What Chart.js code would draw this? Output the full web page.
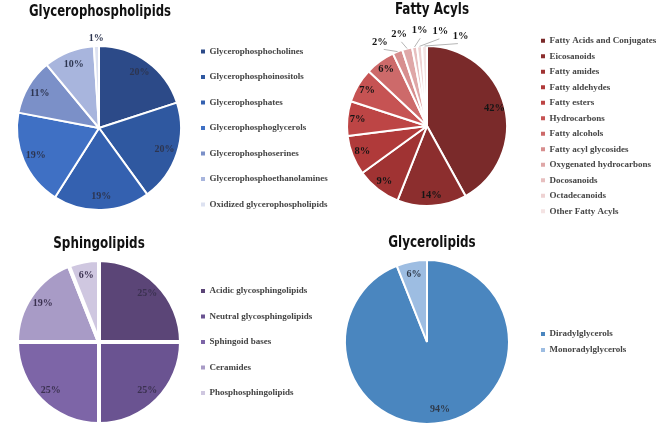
<!DOCTYPE html>
<html><head><meta charset="utf-8">
<script src="https://cdn.jsdelivr.net/npm/chart.js@4.4.1/dist/chart.umd.min.js"></script>
<style>
html,body{margin:0;padding:0;background:#fff;}
body{width:666px;height:436px;position:relative;overflow:hidden;}
canvas{position:absolute;}
</style></head><body>
<canvas id="gp"></canvas>
<canvas id="fa"></canvas>
<canvas id="sp"></canvas>
<canvas id="gl"></canvas>
<script>
// ---------- data ----------
const gpTitle = 'Glycerophospholipids';
const gpCategories = ['Glycerophosphocholines','Glycerophosphoinositols','Glycerophosphates','Glycerophosphoglycerols','Glycerophosphoserines','Glycerophosphoethanolamines','Oxidized glycerophospholipids'];
const gpValues = [20, 20, 19, 19, 11, 10, 1];

const faTitle = 'Fatty Acyls';
const faCategories = ['Fatty Acids and Conjugates','Eicosanoids','Fatty amides','Fatty aldehydes','Fatty esters','Hydrocarbons','Fatty alcohols','Fatty acyl glycosides','Oxygenated hydrocarbons','Docosanoids','Octadecanoids','Other Fatty Acyls'];
const faValues = [42, 14, 9, 8, 7, 7, 6, 2, 2, 1, 1, 1];

const spTitle = 'Sphingolipids';
const spCategories = ['Acidic glycosphingolipids','Neutral glycosphingolipids','Sphingoid bases','Ceramides','Phosphosphingolipids'];
const spValues = [25, 25, 25, 19, 6];

const glTitle = 'Glycerolipids';
const glCategories = ['Diradylglycerols','Monoradylglycerols'];
const glValues = [94, 6];

// ---------- styles ----------
const gpColors = ['#2c4a88','#2f58a0','#3461b0','#3f70c4','#7b90c8','#a8b5dd','#dde2f1'];
const faColors = ['#7a2a2a','#8c2e2e','#a03333','#b03a3a','#bd4545','#c65353','#cd6a6a','#d78e8e','#dfa7a7','#e7bfbf','#eed2d2','#f4e3e3'];
const spColors = ['#5b4577','#6a5391','#7d65a7','#a89bc6','#cfc7e0'];
const glColors = ['#4a86bf','#9dbde2'];

const TITLE_FONT = "'Liberation Sans Narrow','DejaVu Sans Condensed','Liberation Sans',Arial,sans-serif";
const SERIF = "'Liberation Serif','DejaVu Serif',serif";
const TITLE_SQUEEZE = 0.83;

const sliceLabels = {
  id: 'sliceLabels',
  afterDatasetsDraw(chart, args, o) {
    const ctx = chart.ctx;
    const meta = chart.getDatasetMeta(0);
    const vals = chart.data.datasets[0].data;
    ctx.save();
    ctx.font = 'bold ' + o.size + 'px ' + SERIF;
    ctx.fillStyle = o.color;
    ctx.textAlign = 'center';
    ctx.textBaseline = 'middle';
    const small = [];
    meta.data.forEach((arc, i) => {
      const p = arc.getProps(['x','y','startAngle','endAngle','outerRadius'], true);
      const mid = (p.startAngle + p.endAngle) / 2;
      if (vals[i] <= o.outsideMax) { small.push({v: vals[i], mid, x: p.x, y: p.y, r: p.outerRadius}); return; }
      const R = p.outerRadius * o.inside;
      ctx.fillText(vals[i] + '%', p.x + Math.cos(mid) * R, p.y + Math.sin(mid) * R);
    });
    const n = small.length;
    if (n) {
      const d2r = Math.PI / 180;
      const mean = small.reduce((s, a) => s + a.mid, 0) / n + (o.shift || 0) * d2r;
      small.forEach((s, k) => {
        const ang = n > 1 ? mean + (k - (n - 1) / 2) * o.sep * d2r : s.mid;
        if (o.leader) {
          ctx.strokeStyle = o.leaderColor;
          ctx.lineWidth = 1;
          ctx.beginPath();
          ctx.moveTo(s.x + Math.cos(s.mid) * s.r, s.y + Math.sin(s.mid) * s.r);
          ctx.lineTo(s.x + Math.cos(ang) * s.r * o.leaderEnd, s.y + Math.sin(ang) * s.r * o.leaderEnd);
          ctx.stroke();
        }
        const R = s.r * o.outside;
        ctx.fillText(s.v + '%', s.x + Math.cos(ang) * R, s.y + Math.sin(ang) * R);
      });
    }
    ctx.restore();
  }
};

const baseGen = Chart.overrides.pie.plugins.legend.labels.generateLabels;
const measureCtx = document.createElement('canvas').getContext('2d');

function makePie(s) {
  const cv = document.getElementById(s.id);
  const ts = 16, tlh = ts * 1.2, fs = 9, bw = 4;
  const pad = s.spacing - fs;
  const legendFont = 'bold ' + fs + 'px ' + SERIF;
  measureCtx.font = legendFont;
  const maxText = Math.max(...s.labels.map(t => measureCtx.measureText(t).width));
  const legendW = pad + bw + fs / 2 + maxText + 10;
  const areaRight = s.legendX - pad - s.L;
  const areaLeft = 2 * (s.cx - s.L) - areaRight;
  const W = Math.ceil(areaRight + legendW + 3);
  const padRight = W - areaRight - legendW;
  const tt = s.titleY - s.T - tlh / 2;
  const top = 2 * (s.cy - s.T) - s.H;
  const tb = top - tt - tlh;
  cv.width = W; cv.height = s.H;
  cv.style.left = s.L + 'px'; cv.style.top = s.T + 'px';
  cv.style.width = W + 'px'; cv.style.height = s.H + 'px';
  const chart = new Chart(cv, {
    type: 'pie',
    data: {
      labels: s.labels,
      datasets: [{
        data: s.values,
        backgroundColor: s.colors,
        borderColor: '#ffffff',
        borderWidth: s.border,
        radius: s.r
      }]
    },
    options: {
      responsive: false,
      animation: false,
      events: [],
      layout: { padding: { left: areaLeft, right: padRight, top: 0, bottom: 0 } },
      plugins: {
        tooltip: { enabled: false },
        title: {
          display: true, text: s.title, fullSize: false, color: '#111111',
          font: { family: TITLE_FONT, size: ts, weight: 'bold' },
          padding: { top: tt, bottom: tb }
        },
        legend: {
          position: 'right', fullSize: false, align: 'center', maxWidth: legendW + 20,
          labels: {
            boxWidth: bw, boxHeight: bw, padding: pad, color: '#444444',
            font: { family: SERIF, size: fs, weight: 'bold' },
            generateLabels: (ch) => baseGen(ch).map(it => Object.assign(it, { lineWidth: 0, strokeStyle: 'rgba(0,0,0,0)' }))
          }
        },
        sliceLabels: s.lbl
      }
    },
    plugins: [sliceLabels]
  });
  // condensed title look (the reference uses a narrow bold sans)
  const tbk = chart.titleBlock;
  if (tbk) {
    const orig = tbk.draw.bind(tbk);
    const dx = s.titleDx || 0;
    tbk.draw = function () {
      const c = this.ctx;
      const mx = (this.left + this.right) / 2;
      c.save();
      c.translate(mx + dx, 0); c.scale(TITLE_SQUEEZE, 1); c.translate(-mx, 0);
      orig();
      c.restore();
    };
    chart.draw();
  }
  return chart;
}

makePie({ id: 'gp', L: 0, T: 0, H: 231, cx: 99, cy: 128, r: 82, legendX: 201, spacing: 25.5, titleY: 12, titleDx: 1,
  title: gpTitle, labels: gpCategories, values: gpValues, colors: gpColors, border: 2,
  lbl: { size: 10, color: '#2d3550', inside: 0.84, outsideMax: 1, outside: 1.09, sep: 0, leader: false } });

makePie({ id: 'fa', L: 318, T: 0, H: 229, cx: 427, cy: 126, r: 80, legendX: 541, spacing: 15.5, titleY: 10, titleDx: 5,
  title: faTitle, labels: faCategories, values: faValues, colors: faColors, border: 2,
  lbl: { size: 10.5, color: '#151515', inside: 0.87, outsideMax: 2, outside: 1.2, sep: 12.5, shift: 6, leader: true, leaderEnd: 1.1, leaderColor: '#b5b5b5' } });

makePie({ id: 'sp', L: 0, T: 230, H: 198, cx: 99, cy: 342, r: 82, legendX: 201, spacing: 25.5, titleY: 244, titleDx: 0,
  title: spTitle, labels: spCategories, values: spValues, colors: spColors, border: 4,
  lbl: { size: 10, color: '#3b3150', inside: 0.83, outsideMax: 0, outside: 1.1, sep: 0, leader: false } });

makePie({ id: 'gl', L: 318, T: 230, H: 198, cx: 427, cy: 342, r: 82, legendX: 541, spacing: 16, titleY: 243, titleDx: 5,
  title: glTitle, labels: glCategories, values: glValues, colors: glColors, border: 2,
  lbl: { size: 10, color: '#2f3a4a', inside: 0.84, outsideMax: 0, outside: 1.1, sep: 0, leader: false } });
</script>
</body></html>
